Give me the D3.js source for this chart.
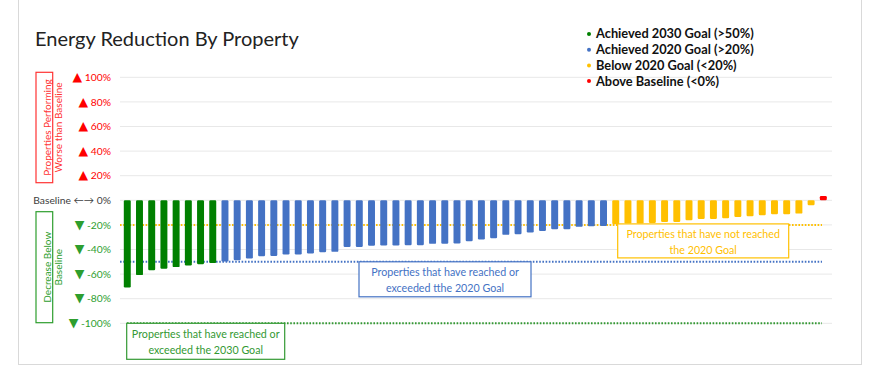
<!DOCTYPE html>
<html>
<head>
<meta charset="utf-8">
<script src="https://cdnjs.cloudflare.com/ajax/libs/d3/7.8.5/d3.min.js"></script>
<style>
body { margin: 0; background: #fff; }
text { font-family: Lato, "Open Sans", sans-serif; }
</style>
</head>
<body>
<div id="chart"></div>
<script>
// energy change vs baseline, percent (negative = reduction)
let greenVals = [-70.8, -60.8, -56.8, -55.7, -54.3, -53.0, -51.9, -50.9]
let blueVals = [-49.8, -48.7, -47.3, -45.4, -45.2, -44.1, -44.1, -43.2, -42.2, -41.9,
	-38.0, -38.0, -37.0, -36.8, -36.8, -36.5, -36.5, -35.4, -35.3, -35.1,
	-33.2, -31.9, -30.8, -28.1, -27.6, -26.2, -24.9, -23.5, -23.5, -21.6, -21.1, -20.8]
let yellowVals = [-19.5, -18.9, -18.9, -18.4, -17.6, -17.6, -16.2, -15.2, -15.2, -14.6,
	-13.5, -13.0, -12.2, -11.4, -11.4, -10.8, -4.0]
let redVals = [3.5]
let tickVals = [100, 80, 60, 40, 20, 0, -20, -40, -60, -80, -100]
let goalLines = [-20, -50, -100]
let legendItems = ['Achieved 2030 Goal (>50%)', 'Achieved 2020 Goal (>20%)', 'Below 2020 Goal (<20%)', 'Above Baseline (<0%)']

let values = greenVals.concat(blueVals, yellowVals, redVals)

function colorOf(v) {
	if (v < -50) return '#008000'
	if (v < -20) return '#4472C4'
	if (v <= 0) return '#FFC000'
	return '#FF0000'
}

let svg = d3.select('#chart').append('svg')
	.attr('width', 880)
	.attr('height', 382)

// frame
svg.append('rect')
	.attr('x', 18.5).attr('y', -2)
	.attr('width', 843).attr('height', 366.5)
	.attr('fill', 'none')
	.attr('stroke', '#d9d9d9')

let y = d3.scaleLinear().domain([-100, 100]).range([323.3, 77.3])
let x = d3.scaleBand()
	.domain(d3.range(values.length))
	.range([123.8, 826.8])
	.paddingInner(0.43)
	.paddingOuter(0)

// gridlines
svg.append('g')
	.selectAll('line')
	.data(tickVals)
	.enter()
	.append('line')
	.attr('x1', 120).attr('x2', 832)
	.attr('y1', d => y(d)).attr('y2', d => y(d))
	.attr('stroke', '#e8e8e8')
	.attr('stroke-width', 1)

// goal lines
let goalColor = {'-20': '#FFC000', '-50': '#4472C4', '-100': '#339933'}
svg.append('g')
	.selectAll('line')
	.data(goalLines)
	.enter()
	.append('line')
	.attr('x1', d => d == -100 ? 127 : 120).attr('x2', 822)
	.attr('y1', d => y(d)).attr('y2', d => y(d))
	.attr('stroke', d => goalColor[d])
	.attr('stroke-width', 2)
	.attr('stroke-dasharray', '1.6,1.6')

// bars
svg.append('g')
	.selectAll('rect')
	.data(values)
	.enter()
	.append('rect')
	.attr('x', (d, i) => x(i))
	.attr('width', x.bandwidth())
	.attr('y', d => y(Math.max(0, d)))
	.attr('height', d => Math.abs(y(d) - y(0)))
	.attr('rx', 1.2)
	.attr('fill', d => colorOf(d))

// y labels
let yl = svg.append('g')
	.selectAll('text')
	.data(tickVals)
	.enter()
	.append('text')
	.attr('x', 111)
	.attr('y', d => y(d))
	.attr('dy', '0.35em')
	.attr('text-anchor', 'end')
	.style('font-size', '10.3px')
	.attr('fill', d => d > 0 ? '#FF0000' : (d < 0 ? '#2e9e2e' : '#404040'))
yl.filter(d => d != 0).append('tspan')
	.style('font-size', '12.5px')
	.style('font-family', 'DejaVu Sans')
	.text(d => d > 0 ? '\u25B2' : '\u25BC')
yl.append('tspan')
	.text(function(d) {
		if (d != 0) return ' ' + d + '%'
		return 'Baseline \u2190\u2192 0%'
	})

// side boxes
function sideBox(x0, y0, w, h, color, lines) {
	svg.append('rect')
		.attr('x', x0).attr('y', y0)
		.attr('width', w).attr('height', h)
		.attr('fill', 'none')
		.attr('stroke', color)
		.attr('stroke-width', 1.2)
	let cx = x0 + 15, cy = y0 + h / 2
	svg.append('text')
		.attr('transform', 'translate(' + cx + ',' + cy + ') rotate(-90)')
		.attr('text-anchor', 'middle')
		.style('font-size', '10px')
		.attr('fill', color)
		.selectAll('tspan')
		.data(lines)
		.enter()
		.append('tspan')
		.attr('x', 0)
		.attr('dy', (d, i) => i == 0 ? 0 : 11)
		.text(d => d)
}
sideBox(36, 72.3, 16.7, 110.4, '#FF3333', ['Properties Performing', 'Worse than Baseline'])
sideBox(36, 211.7, 16.7, 111, '#2e9e2e', ['Decrease Below', 'Baseline'])

// annotation boxes
function noteBox(x0, y0, w, h, color, lines) {
	svg.append('rect')
		.attr('x', x0).attr('y', y0)
		.attr('width', w).attr('height', h)
		.attr('fill', '#fff')
		.attr('stroke', color)
		.attr('stroke-width', 1.2)
	svg.append('text')
		.attr('text-anchor', 'middle')
		.style('font-size', '10.7px')
		.attr('fill', color)
		.selectAll('tspan')
		.data(lines)
		.enter()
		.append('tspan')
		.attr('x', x0 + w / 2)
		.attr('y', (d, i) => y0 + 14.5 + i * 16)
		.text(d => d)
}
noteBox(617.7, y(-20) - 1, 171, 34, '#FFC000', ['Properties that have not reached', 'the 2020 Goal'])
noteBox(359, y(-50), 172, 35, '#4472C4', ['Properties that have reached or', 'exceeded tthe 2020 Goal'])
noteBox(126.7, y(-100), 158, 36, '#339933', ['Properties that have reached or', 'exceeded the 2030 Goal'])

// title
svg.append('text')
	.attr('x', 35).attr('y', 46)
	.style('font-size', '20px')
	.attr('fill', '#222')
	.text('Energy Reduction By Property')

// legend
let legColors = ['#008000', '#4472C4', '#FFC000', '#FF0000']
let leg = svg.append('g')
	.selectAll('g')
	.data(legendItems)
	.enter()
	.append('g')
	.attr('transform', (d, i) => 'translate(589,' + (34 + i * 15.7) + ')')
leg.append('circle')
	.attr('r', 2)
	.attr('fill', (d, i) => legColors[i])
leg.append('text')
	.attr('x', 7)
	.attr('dy', '0.35em')
	.style('font-size', '12.8px')
	.style('font-weight', 'bold')
	.attr('fill', '#111')
	.text(d => d)
</script>
</body>
</html>
